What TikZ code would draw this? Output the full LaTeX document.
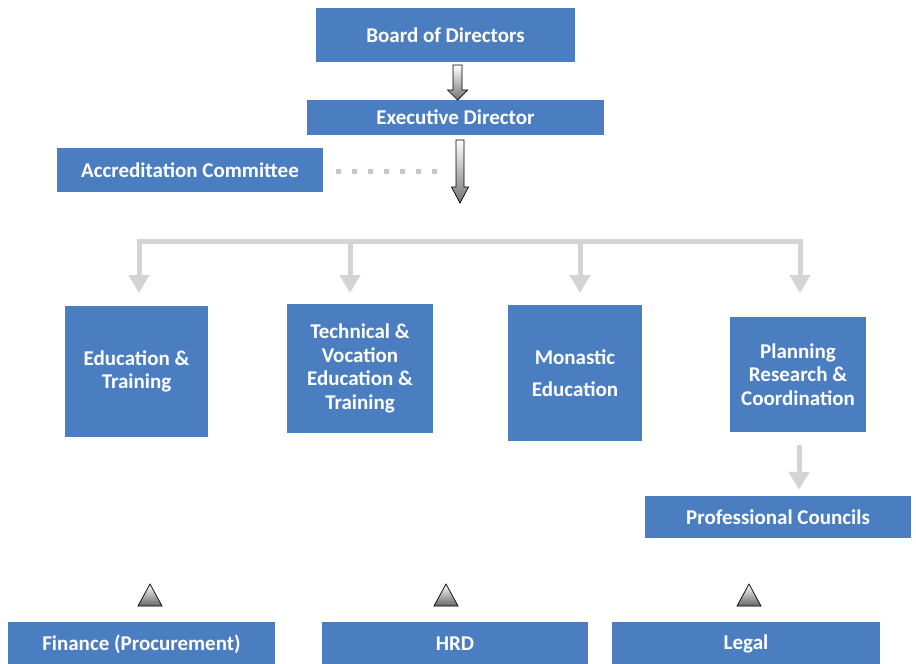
\documentclass[tikz,border=0pt]{standalone}
\usepackage{fontspec}
\setmainfont{Carlito}
\usetikzlibrary{arrows.meta}
\definecolor{boxblue}{RGB}{74,126,193}
\definecolor{conngray}{RGB}{212,212,212}
\definecolor{dotgray}{RGB}{200,200,200}
\begin{document}
\begin{tikzpicture}[x=1pt,y=-1pt,
  box/.style={fill=boxblue, text=white, font=\bfseries\fontsize{21}{23.5}\selectfont,
    align=center, inner sep=0pt, anchor=center},
  conn/.style={draw=conngray, line width=5pt},
  connarrow/.style={conn, -{Triangle[width=20pt,length=18pt]}},
  dotline/.style={draw=dotgray, line width=5pt, dash pattern=on 5pt off 11pt},
  blockarrow/.style={draw=black, line width=0.7pt, top color=white, bottom color=black!55},
  tri/.style={draw=black, line width=0.7pt, top color=white, bottom color=black!60}]
\useasboundingbox (0,0) rectangle (916,664);
\fill[white] (0,0) rectangle (916,664);

% top nodes
\node[box, minimum width=259pt, minimum height=54pt] (board) at (445.5,35) {Board of Directors};
\node[box, minimum width=297pt, minimum height=35pt] (exec) at (455.5,117.5) {Executive Director};
\node[box, minimum width=266pt, minimum height=44pt] (accr) at (190,170) {Accreditation Committee};

% block arrows
\shade[blockarrow] (453,65) -- (462,65) -- (462,90) -- (467.5,90) -- (457.5,100)
  -- (447.5,90) -- (453,90) -- cycle;
\shade[blockarrow] (456,140) -- (464,140) -- (464,187) -- (468.5,187) -- (460,203)
  -- (451.5,187) -- (456,187) -- cycle;

% dotted link
\coordinate (dotend) at (438,171);
\draw[dotline] ([xshift=13pt,yshift=-1pt]accr.east) -- (dotend);

% department nodes
\node[box, minimum width=143pt, minimum height=131pt] (edu) at (136.5,371.5) {Education \&\\Training};
\node[box, minimum width=146pt, minimum height=129pt] (tech) at (360,368.5) {Technical \&\\Vocation\\Education \&\\Training};
\node[box, minimum width=134pt, minimum height=136pt] (mon) at (575,373) {Monastic\\[9pt]Education};
\node[box, minimum width=136pt, minimum height=115pt] (plan) at (798,374.5) {Planning\\Research \&\\Coordination};
\node[box, minimum width=266pt, minimum height=42pt] (prof) at (778,517) {Professional Councils};

% branch bar
\coordinate (bA) at (139,241);
\coordinate (bB) at (350,241);
\coordinate (bC) at (580,241);
\coordinate (bD) at (800,241);
\coordinate (tA) at (139,293);
\coordinate (tB) at (350,293);
\coordinate (tC) at (580,293);
\coordinate (tD) at (800,293);
\draw[conn, line cap=rect] (bA) -- (bD);
\draw[connarrow] (bA) -- (tA);
\draw[connarrow] (bB) -- (tB);
\draw[connarrow] (bC) -- (tC);
\draw[connarrow] (bD) -- (tD);

% planning -> professional councils
\draw[connarrow] ([xshift=1pt,yshift=-13pt]plan.south) -- ([xshift=21pt,yshift=6pt]prof.north);

% bottom nodes
\node[box, minimum width=267pt, minimum height=44pt] (fin) at (141.5,644) {Finance (Procurement)};
\node[box, minimum width=266pt, minimum height=44pt] (hrd) at (455,644) {HRD};
\node[box, minimum width=268pt, minimum height=44pt] (legal) at (746,644) {Legal};

% triangles
\shade[tri] (138,606) -- (162,606) -- (150,584) -- cycle;
\shade[tri] (434,606) -- (458,606) -- (446,584) -- cycle;
\shade[tri] (737,606) -- (761,606) -- (749,584) -- cycle;
\end{tikzpicture}
\end{document}
